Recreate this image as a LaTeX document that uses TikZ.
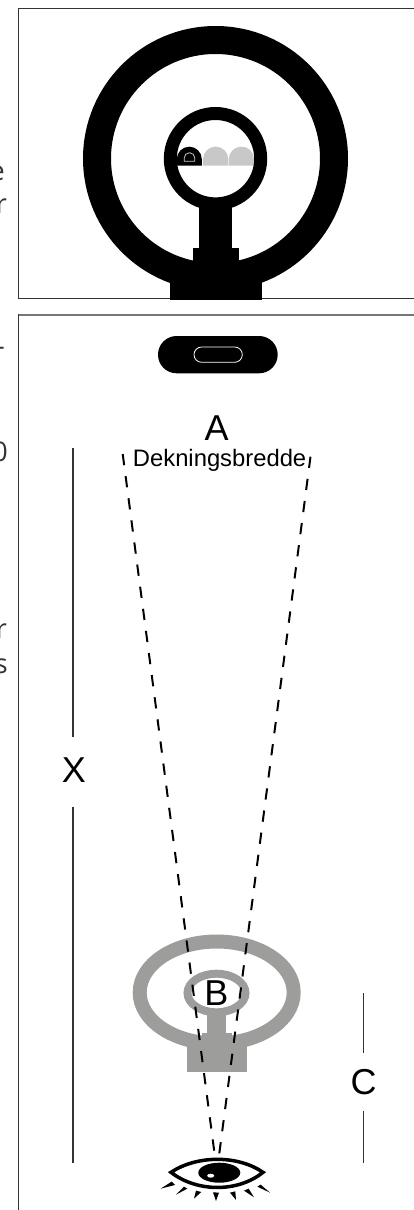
\documentclass[tikz,border=0pt]{standalone}
\usepackage{fontspec}
\setmainfont{Liberation Sans}
\newfontfamily\sidefont{Open Sans}
\usepackage{tikz}
\usetikzlibrary{positioning,calc}
\definecolor{framedark}{HTML}{333333}
\definecolor{frameline}{HTML}{777777}
\definecolor{domegray}{HTML}{C8C8C8}
\definecolor{icongray}{HTML}{9D9D9C}
\begin{document}
\begin{tikzpicture}[
    x=1pt, y=-1pt,
    frameedge/.style={framedark, line width=1.1pt},
    beam/.style={black, line width=2pt, dash pattern=on 11.3pt off 11pt},
    guide/.style={framedark, line width=1.1pt},
    bigletter/.style={font=\fontsize{36}{36}\selectfont, inner sep=0pt},
    sidetext/.style={font=\sidefont\fontsize{27}{27}\selectfont, text=framedark, anchor=base east, inner sep=0pt}
]
    \clip (0,0) rectangle (414,1210);

    % Cut-off text at the left edge
    \node[sidetext] (t1) at (5,180) {e};
    \node[sidetext] (t2) at (7,213) {r};
    \node[sidetext] (t3) at (5,355) {-};
    \node[sidetext] (t4) at (8,461) {0};
    \node[sidetext] (t5) at (7,638) {r};
    \node[sidetext] (t6) at (8,673) {s};

    % Upper frame
    \draw[frameedge] (414,8.8) -- (18.3,8.8) -- (18.3,298.3) -- (414,298.3);

    % Upper icon
    \fill[black] (176.8,165.7) -- (176.8,159.2) arc[start angle=180, end angle=360, radius=12.5] -- (201.8,165.7) -- cycle;
    \foreach \cx in {215.7,241.4} {
        \fill[domegray] (\cx-12.6,165.7) -- (\cx-12.6,159.2) arc[start angle=180, end angle=360, radius=12.6] -- (\cx+12.6,165.7) -- cycle;
    }
    \draw[domegray, line width=0.8pt] (184.2,161.3) -- (184.2,158) arc[start angle=180, end angle=360, radius=5.3] -- (194.8,161.3) -- cycle;
    \draw[black, line width=28pt] (215.5,158.5) circle[radius=118.5];
    \draw[black, line width=13pt] (215.5,158.7) circle[radius=45.2];
    \fill[black] (199,200) rectangle (232.3,250);
    \fill[black] (193,248) rectangle (239,285);
    \fill[black] (170,275) rectangle (262,300);

    % Lower frame
    \draw[frameline, line width=1.5pt] (18.3,314.8) -- (414,314.8);
    \draw[frameedge] (18.3,314.2) -- (18.3,1210);

    % Sensor
    \fill[black, rounded corners=18.6pt] (158,336) rectangle (277.7,373.3);
    \draw[white, line width=0.8pt, rounded corners=7.6pt] (194,347) rectangle (242.3,362.3);

    % Gray icon
    \draw[icongray, line width=14pt] (216.7,992.5) ellipse[x radius=77, y radius=51];
    \draw[icongray, line width=8pt] (216.5,993) ellipse[x radius=29, y radius=19.3];
    \fill[icongray] (207.3,1010) rectangle (225.7,1035);
    \fill[icongray] (201.7,1032.7) rectangle (232,1050);
    \fill[icongray] (187,1045) rectangle (247,1071.7);

    % Labels
    \node[bigletter, anchor=base] (a) at (216.7,440) {A};
    \node[font=\fontsize{23.8}{24}\selectfont, inner sep=0pt, anchor=base] (dek) at (219.6,466.7) {Dekningsbredde};
    \node[bigletter] (b) at (216.3,993) {B};
    \node[bigletter] (x) at (74,770) {X};
    \node[bigletter] (c) at (363.5,1081.7) {C};

    % Beam lines
    \coordinate (bl) at (122.7,454);
    \coordinate (br) at (310.5,456.7);
    \coordinate (el) at (214.3,1151.7);
    \coordinate (er) at (218.7,1158);
    \draw[beam] (bl) -- (el);
    \draw[beam] (br) -- (er);

    % Distance lines
    \coordinate (xtop) at (73,447.7);
    \coordinate (xupper) at (73,736.7);
    \coordinate (xlower) at (73,806.7);
    \coordinate (xbot) at (73,1163);
    \coordinate (ctop) at (363.7,993.3);
    \coordinate (cupper) at (363.7,1053);
    \coordinate (clower) at (363.7,1111);
    \coordinate (cbot) at (363.7,1163);
    \draw[guide] (xtop) -- (xupper);
    \draw[guide] (xlower) -- (xbot);
    \draw[guide] (ctop) -- (cupper);
    \draw[guide] (clower) -- (cbot);

    % Eye
    \draw[black, line width=3.5pt] (171,1172.3) .. controls (197,1155) and (238,1155) .. (263,1172.3) .. controls (238,1192.5) and (197,1192.5) .. cycle;
    \fill[black] (219.3,1172.7) ellipse[x radius=21, y radius=10];
    \fill[white] (210.7,1175.7) ellipse[x radius=3.5, y radius=2];
    \begin{scope}[shift={(110,910)}, x=0.3333pt, y=-0.3333pt]
        \foreach \tx/\ty/\ax/\ay/\bx/\by in {152/836/185/815/195/825, 198/854/222/830/232/836, 252/866/258/842/274/846, 318/873/309/847/327/848, 378/870/360/848/376/844, 432/862/402/842/416/836, 480/848/442/830/452/824} {
            \fill[black] (\tx,\ty) -- (\ax,\ay) -- (\bx,\by) -- cycle;
        }
    \end{scope}
\end{tikzpicture}
\end{document}
